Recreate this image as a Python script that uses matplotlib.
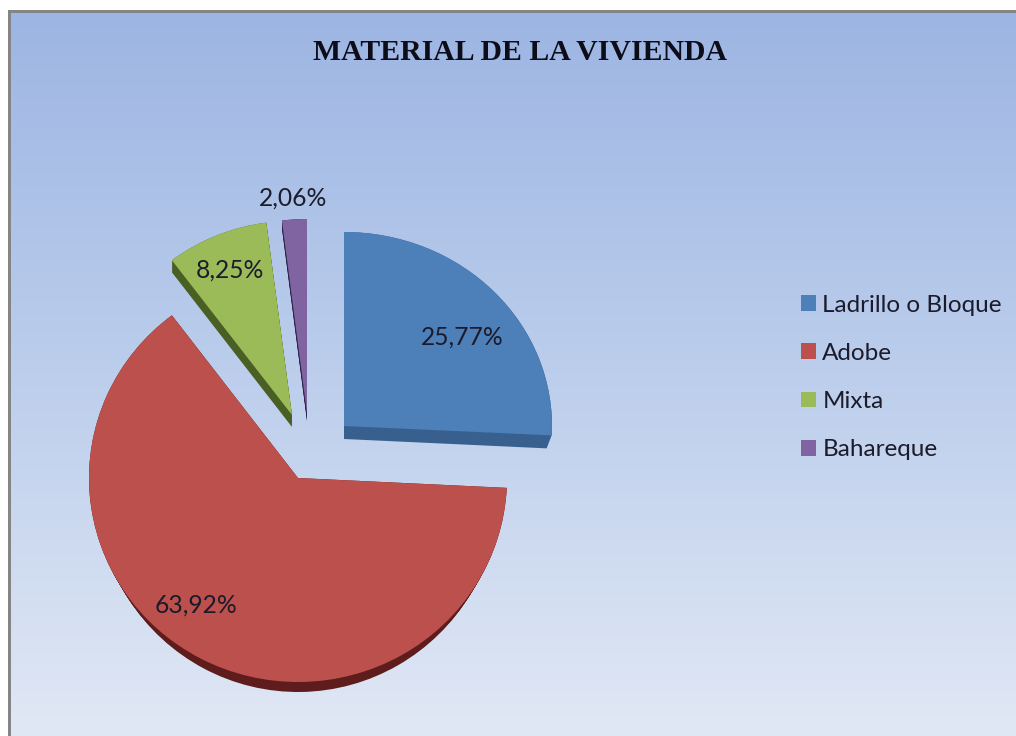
import numpy as np
import matplotlib
matplotlib.use("Agg")
import matplotlib.pyplot as plt
from matplotlib.patches import Wedge, Rectangle
from matplotlib.transforms import Affine2D

W, H = 1016, 736
title = "MATERIAL DE LA VIVIENDA"
categories = ["Ladrillo o Bloque", "Adobe", "Mixta", "Bahareque"]
values = [25.77, 63.92, 8.25, 2.06]
colors = ["#4d7fb8", "#bb504c", "#9bbb59", "#8064a2"]
side_colors = ["#38608f", "#5e1d1c", "#4a5f23", "#2e2448"]
# apex position (px) and horizontal/vertical radius (px) of each exploded slice
apex = [(344, 426), (298, 478), (292, 415), (307, 413)]
radii = [(208, 194), (209, 204), (199, 194), (194, 194)]
depth = [13, 10, 12, 8]
taper = [5, 7, 0, 0]
label_pos = [(462, 337), (196, 605), (230, 270), (293, 198)]

fig = plt.figure(figsize=(W / 100, H / 100), dpi=100, facecolor="white")
ax = fig.add_axes([0, 0, 1, 1])

wedges, _ = ax.pie(values, startangle=90, counterclock=False, radius=1,
                   colors=colors, wedgeprops=dict(linewidth=0))
ax.set_aspect("auto")
ax.set_xlim(0, W)
ax.set_ylim(0, H)
ax.axis("off")

# background panel with vertical gradient and grey frame on left/top
stops = np.array([[0.0, 0x9d, 0xb5, 0xe3], [0.5, 0xbc, 0xce, 0xec], [1.0, 0xe1, 0xe8, 0xf5]])
t = np.linspace(0, 1, 256)
grad = np.stack([np.interp(t, stops[:, 0], stops[:, i]) / 255 for i in (1, 2, 3)], axis=1)[:, None, :]
ax.imshow(grad, extent=(9, W, 0, H - 11), aspect="auto", origin="upper", zorder=0)
ax.add_patch(Rectangle((8, 0), 2.5, H - 10, color="#858585", lw=0, zorder=1))
ax.add_patch(Rectangle((8, H - 12.5), W - 8, 2.5, color="#858585", lw=0, zorder=1))
ax.set_xlim(0, W)
ax.set_ylim(0, H)

for i, w in enumerate(wedges):
    cx, cy = apex[i][0], H - apex[i][1]
    rx, ry = radii[i]
    for d in np.arange(0, depth[i] + 0.5, 1.0):
        rx_d = rx - taper[i] * d / depth[i]
        s = Wedge((0, 0), 1, w.theta1, w.theta2, facecolor=side_colors[i], lw=0,
                  zorder=2 + i * 0.1,
                  transform=Affine2D().scale(rx_d, ry).translate(cx, cy - d) + ax.transData)
        ax.add_patch(s)
    w.set_transform(Affine2D().scale(rx, ry).translate(cx, cy) + ax.transData)
    w.set_zorder(3 + i * 0.1)

for v, (px, py) in zip(values, label_pos):
    ax.text(px, H - py, f"{v:.2f}".replace(".", ",") + "%", family="Lato", fontsize=17.7,
            color="#1b1b2b", ha="center", va="center", zorder=5)

ax.text(520, H - 52, title, family="Liberation Serif", weight="bold", fontsize=21.4,
        color="#0d0d1a", ha="center", va="center", zorder=5)

leg = ax.legend(wedges, categories, loc="center left", bbox_to_anchor=(801 / W, (H - 377.5) / H),
                bbox_transform=fig.transFigure, frameon=False,
                prop=dict(family="Lato", size=17.5), labelcolor="#1b1b2b",
                handlelength=0.62, handleheight=0.62, handletextpad=0.26,
                labelspacing=1.12, borderpad=0, borderaxespad=0)
leg.set_zorder(6)

fig.savefig("out.png", dpi=100, facecolor="white")
